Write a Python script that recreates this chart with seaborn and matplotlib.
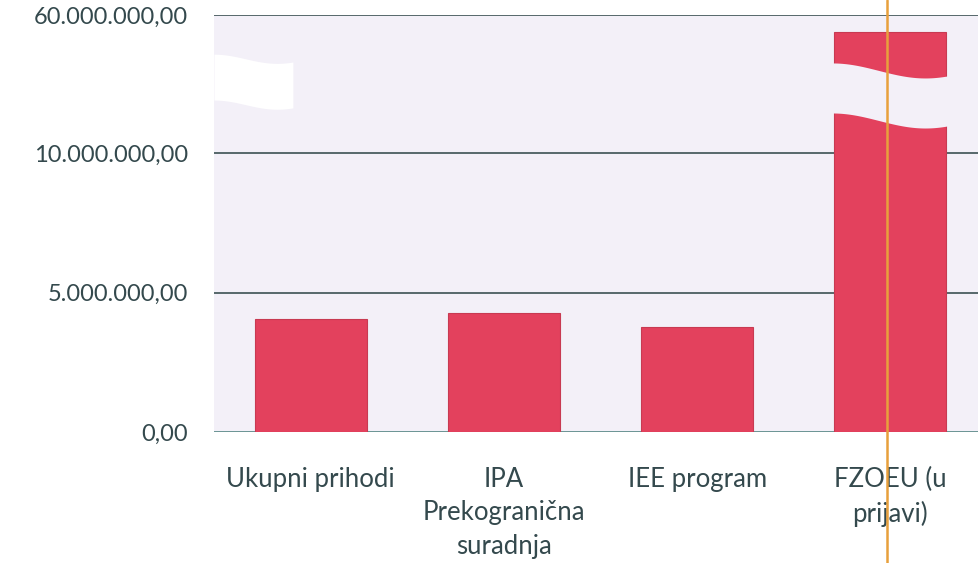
import numpy as np
import matplotlib
matplotlib.use("Agg")
import matplotlib.pyplot as plt
from matplotlib.lines import Line2D
import seaborn as sns

# podaci (procjena s grafa)
kategorije = ["Ukupni prihodi", "IPA\nPrekogranična\nsuradnja", "IEE program", "FZOEU (u\nprijavi)"]
iznosi = [4050000, 4270000, 3760000, 53800000]
y_tickovi = [0, 5000000, 10000000, 60000000]
y_oznake = ["0,00", "5.000.000,00", "10.000.000,00", "60.000.000,00"]

PREKID = 10000000
K = 0.099

def naprijed(y):
    y = np.asarray(y, dtype=float)
    return np.where(y <= PREKID, y, PREKID + (y - PREKID) * K)

def natrag(y):
    y = np.asarray(y, dtype=float)
    return np.where(y <= PREKID, y, PREKID + (y - PREKID) / K)

sns.set_style("white")
plt.rcParams['font.family'] = ['Lato', 'DejaVu Sans']

boja_bar = "#e3415d"
pozadina = "#f3f0f8"
tekst = "#34494d"

fig = plt.figure(figsize=(9.79, 5.63), dpi=100)
ax = fig.add_axes([214/979, 131/563, 773/979, 417/563])
ax.set_facecolor(pozadina)

ax.set_yscale("function", functions=(naprijed, natrag))

for t in y_tickovi:
    ax.axhline(t, color="#6b9494" if t == 0 else "#56686b", lw=1.4, zorder=1)

sns.barplot(x=kategorije, y=iznosi, color=boja_bar, width=0.58, ax=ax,
            edgecolor="#c83a52", linewidth=0.8, saturation=1, zorder=2)

ax.set_xlim(-0.5, 3.5)
ax.set_ylim(0, 60000000)
ax.set_yticks(y_tickovi)
ax.set_yticklabels(y_oznake)
ax.minorticks_off()
ax.tick_params(axis="both", length=0, labelcolor=tekst)
ax.tick_params(axis="y", pad=18.5, labelsize=17)
ax.tick_params(axis="x", pad=25, labelsize=18.5)
for lab in ax.get_xticklabels():
    lab.set_linespacing(1.42)
    lab.set_verticalalignment("top")
ax.set_xlabel("")
ax.set_ylabel("")
sns.despine(ax=ax, left=True, bottom=True, top=True, right=True)

# valoviti prekid na zadnjem stupcu
t = np.linspace(0, 1, 60)
val = (1 - np.cos(np.pi * t * 1.25)) / 2
bar = ax.patches[3]
xs = bar.get_x() - 0.01 + t * (bar.get_width() + 0.02)
gornja = 0.885 - 0.036 * val
donja = 0.765 - 0.036 * val
ax.fill_between(xs, donja, gornja, color=pozadina, lw=0,
                transform=ax.get_xaxis_transform(), zorder=3)

# bijela oznaka prekida uz os
xl = t * 0.102
ax.fill_between(xl, 0.796 - 0.022 * val, 0.906 - 0.022 * val, color="white", lw=0,
                transform=ax.transAxes, zorder=3)

# narančasta okomita crta (sa skena)
fig.add_artist(Line2D([887/979, 887/979], [0, 1], color="#e8a03c", lw=1.8))

fig.savefig("out.png", dpi=100, facecolor="white")
